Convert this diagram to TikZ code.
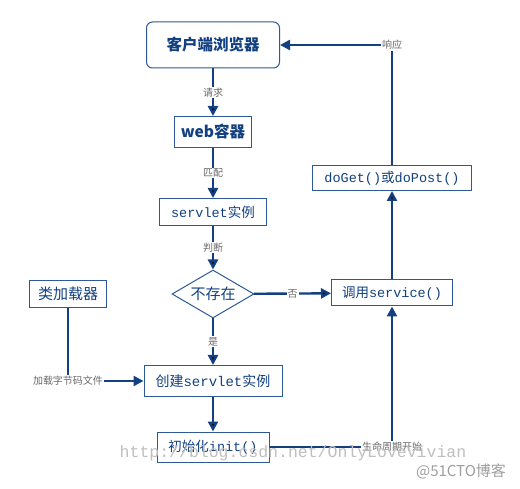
\documentclass[tikz,border=0pt]{standalone}
\usepackage{fontspec}
\setmainfont{Noto Sans CJK SC}
\setmonofont{Liberation Mono}
\usetikzlibrary{shapes.geometric,arrows.meta}
\definecolor{navy}{RGB}{18,64,128}
\definecolor{boxline}{RGB}{45,90,150}
\definecolor{lblgray}{RGB}{105,105,105}
\newcommand{\fs}[1]{\fontsize{#1}{#1}\selectfont}
\begin{document}
\begin{tikzpicture}[x=1pt,y=-1pt,
    every node/.style={draw=boxline,line width=1pt,text=navy,inner sep=0pt},
    box/.style={rectangle,font=\fs{13.5}},
    bigbox/.style={rectangle,font=\bfseries\fs{15.5}},
    lbl/.style={draw=none,fill=white,text=lblgray,font=\fs{10},inner sep=1pt},
    wmark/.style={draw=none,text=black!25},
    flow/.style={draw=navy,line width=2.4pt,-{Triangle[length=10pt,width=10pt]}}]
        \fill[white] (0,0) rectangle (520,489);
        \useasboundingbox (0,0) rectangle (520,489);

        \node[bigbox,rounded corners=6pt,minimum width=133pt,minimum height=46pt] (browser) at (213,45) {客户端浏览器};
        \node[bigbox,minimum width=77pt,minimum height=31pt] (web) at (213,132) {web容器};
        \node[box,minimum width=107pt,minimum height=27pt] (servlet) at (213,212) {{\ttfamily servlet}实例};
        \node[diamond,aspect=1.7,minimum width=82pt,minimum height=48pt,font=\fs{15}] (exists) at (213,294) {不存在};
        \node[box,minimum width=138pt,minimum height=31pt,font=\fs{14}] (create) at (213,381) {创建{\ttfamily servlet}实例};
        \node[box,minimum width=112pt,minimum height=30pt] (init) at (213,447) {初始化{\ttfamily init()}};

        \node[box,minimum width=121pt,minimum height=26pt] (service) at (392,293) {调用{\ttfamily service()}};
        \node[box,minimum width=159pt,minimum height=25pt] (doget) at (392,178) {{\ttfamily doGet()}或{\ttfamily doPost()}};

        \node[box,minimum width=77pt,minimum height=27pt,font=\fs{15}] (loader) at (68,294) {类加载器};

        \path [flow] (browser) edge node[lbl] {请求} (web);
        \path [flow] (web) edge node[lbl] {匹配} (servlet);
        \path [flow] (servlet) edge node[lbl] {判断} (exists);
        \path [flow] (exists) edge node[lbl] {是} (create);
        \path [flow] (exists) edge node[lbl] {否} (service);
        \path [flow] (create) edge (init);
        \path [flow] (service) edge (doget);

        \draw [flow] (loader) |- node[lbl,pos=0.5] {加载字节码文件} (create);
        \draw [flow] (init) -| node[lbl,pos=0.5] {生命周期开始} (service);
        \draw [flow] (doget) |- node[lbl,pos=0.5] {响应} (browser);

        % watermarks
        \node[wmark,font=\ttfamily\fs{16.5}] (url) at (293,453) {http://blog.csdn.net/OnlyLoveVivian};
        \node[wmark,font=\fs{15},text=black!38] (site) at (461,471) {@51CTO博客};
\end{tikzpicture}
\end{document}
